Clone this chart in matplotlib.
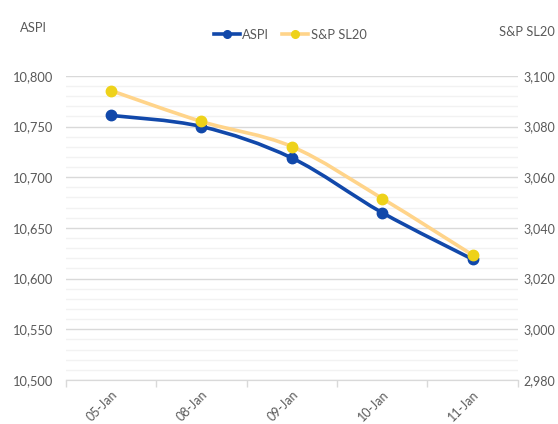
import matplotlib
matplotlib.use("Agg")
import matplotlib.pyplot as plt
from matplotlib.path import Path
from matplotlib.patches import PathPatch
from matplotlib.lines import Line2D
from matplotlib.ticker import MultipleLocator, FuncFormatter
import numpy as np

categories = ["05-Jan", "08-Jan", "09-Jan", "10-Jan", "11-Jan"]
aspi = [10761, 10750, 10719, 10665, 10619]
snp = [3094.2, 3082.0, 3072.1, 3051.6, 3029.3]

plt.rcParams['font.family'] = ['Lato', 'DejaVu Sans']

BLUE = "#1148AA"
ORANGE_LINE = "#FFD48A"
YELLOW_MK = "#EED21A"
TXT = "#595959"

def smooth_path(xs, ys):
    P = np.column_stack([xs, ys]).astype(float)
    n = len(P)
    verts = [P[0]]
    codes = [Path.MOVETO]
    for i in range(n - 1):
        p_prev = P[i - 1] if i > 0 else P[i]
        p_next2 = P[i + 2] if i + 2 < n else P[i + 1]
        c1 = P[i] + (P[i + 1] - p_prev) / 6.0
        c2 = P[i + 1] - (p_next2 - P[i]) / 6.0
        verts += [c1, c2, P[i + 1]]
        codes += [Path.CURVE4] * 3
    return Path(verts, codes)

fig = plt.figure(figsize=(5.58, 4.24), dpi=100)
ax = fig.add_axes([0.118, 0.104, 0.81, 0.717])
ax2 = ax.twinx()

x = np.arange(len(categories))

ax.set_xlim(-0.5, len(categories) - 0.5)
ax.set_ylim(10500, 10800)
ax2.set_ylim(2980, 3100)

ax.yaxis.set_major_locator(MultipleLocator(50))
ax.yaxis.set_minor_locator(MultipleLocator(10))
ax2.yaxis.set_major_locator(MultipleLocator(20))

fmt = FuncFormatter(lambda v, p: f"{v:,.0f}")
ax.yaxis.set_major_formatter(fmt)
ax2.yaxis.set_major_formatter(fmt)

ax.grid(True, which='major', axis='y', color='#D9D9D9', lw=1.0)
ax.grid(True, which='minor', axis='y', color='#F2F2F2', lw=1.0)
ax.set_axisbelow(True)

for a in (ax, ax2):
    for s in ('left', 'right', 'top'):
        a.spines[s].set_visible(False)
    a.spines['bottom'].set_color('#D9D9D9')
ax.tick_params(axis='y', length=0, colors=TXT, labelsize=9.3, pad=9)
ax2.tick_params(axis='y', length=0, colors=TXT, labelsize=9.0, pad=4)
ax.tick_params(axis='y', which='minor', length=0)

ax.set_xticks(x)
ax.set_xticklabels(categories, rotation=45, ha='right', rotation_mode='anchor',
                   color=TXT, fontsize=9)
ax.tick_params(axis='x', which='major', length=0, pad=6)
ax.set_xticks(np.arange(len(categories) + 1) - 0.5, minor=True)
ax.tick_params(axis='x', which='minor', length=5, color='#D9D9D9', width=1)

# ASPI
ax.add_patch(PathPatch(smooth_path(x, aspi), fill=False, edgecolor=BLUE, lw=2.6,
                       capstyle='round', joinstyle='round'))
ax.plot(x, aspi, linestyle='none', marker='o', ms=7.5, color=BLUE, zorder=3)

# S&P SL20
ax2.add_patch(PathPatch(smooth_path(x, snp), fill=False, edgecolor=ORANGE_LINE, lw=2.6,
                        capstyle='round', joinstyle='round'))
ax2.plot(x, snp, linestyle='none', marker='o', ms=7.5, color=YELLOW_MK, zorder=3)

fig.text(0.036, 0.935, "ASPI", color=TXT, fontsize=9.3, ha='left', va='center')
fig.text(0.995, 0.925, "S&P SL20", color=TXT, fontsize=9.3, ha='right', va='center')

handles = [Line2D([], [], color=BLUE, lw=2.6, marker='o', ms=5.5),
           Line2D([], [], color=ORANGE_LINE, lw=2.6, marker='o', ms=5.5,
                  markerfacecolor=YELLOW_MK, markeredgecolor=YELLOW_MK)]
fig.legend(handles, ["ASPI", "S&P SL20"], loc='center', bbox_to_anchor=(0.52, 0.918),
           ncol=2, frameon=False, fontsize=9.3, labelcolor=TXT, handlelength=2.0,
           handletextpad=0.2, columnspacing=1.0)

fig.savefig("out.png", dpi=100)
